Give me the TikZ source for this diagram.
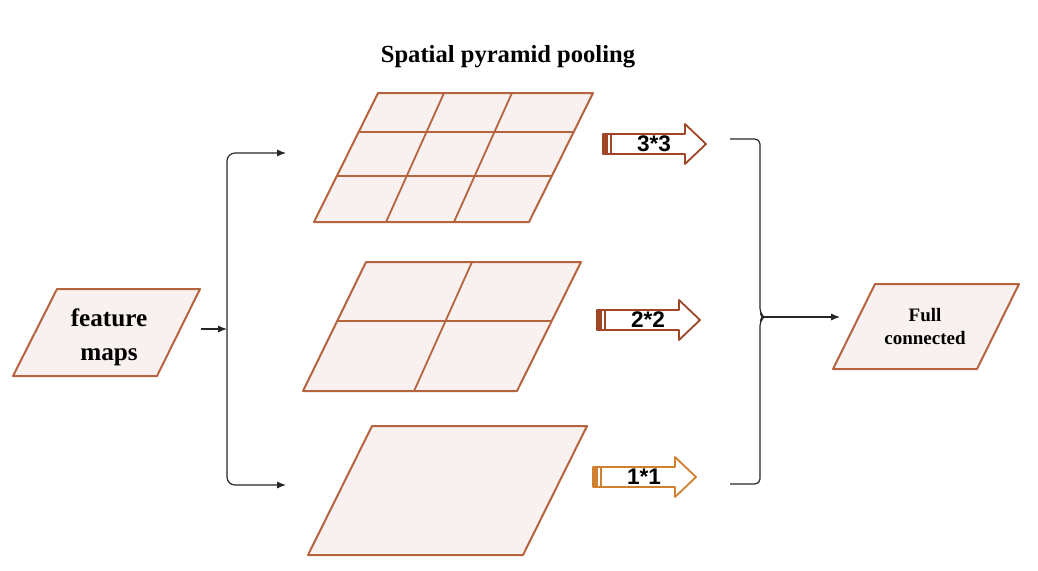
\documentclass[tikz,border=0pt]{standalone}
\usepackage{fontspec}
\setmainfont{Liberation Serif}
\newfontfamily\arrowfont{Liberation Sans}
\usetikzlibrary{arrows.meta,calc}
\definecolor{frame}{RGB}{182,100,64}
\definecolor{paper}{RGB}{248,241,239}
\definecolor{rust}{RGB}{160,70,38}
\definecolor{amber}{RGB}{208,128,46}
\begin{document}
\begin{tikzpicture}[x=0.5pt,y=-0.5pt,>={Latex[length=4.5pt,width=3.6pt]},line join=round,font=\bfseries,
    map/.style={draw=frame,fill=paper,line width=1pt},
    cell/.style={draw=frame,line width=0.9pt},
    wire/.style={line width=0.6pt,black!85}]
    \useasboundingbox (0,0) rectangle (1038,570);
    \node (title) at (508,57) {\fontsize{12.3}{14}\selectfont Spatial pyramid pooling};
    \draw[map] (57,289)--(200,289)--(157,376)--(13,376)--cycle;
    \node[align=center,font=\bfseries\fontsize{12.6}{17}\selectfont] (feat) at (109,337) {feature\\maps};
    \draw[map] (875,284)--(1019,284)--(977,369)--(833,369)--cycle;
    \node[align=center,font=\bfseries\fontsize{9.5}{11.5}\selectfont] (full) at (925,326) {Full\\connected};
    \draw[map] (378,93)coordinate(A1)--(593,93)coordinate(B1)--(529,222)coordinate(C1)--(314,222)coordinate(D1)--cycle;
    \draw[cell] ($(A1)!.302!(D1)$)--($(B1)!.302!(C1)$) ($(A1)!.643!(D1)$)--($(B1)!.643!(C1)$)
        ($(A1)!.307!(B1)$)--($(D1)!.335!(C1)$) ($(A1)!.623!(B1)$)--($(D1)!.651!(C1)$);
    \draw[map] (366,262)coordinate(A2)--(581,262)coordinate(B2)--(517,391)coordinate(C2)--(303,391)coordinate(D2)--cycle;
    \draw[cell] ($(A2)!.457!(D2)$)--($(B2)!.457!(C2)$) ($(A2)!.493!(B2)$)--($(D2)!.519!(C2)$);
    \draw[map] (372,426)--(587,426)--(523,555)--(308,555)--cycle;
    \foreach \n/\x/\y/\lab/\col in {1/603/144/3*3/rust,2/597/320/2*2/rust,3/593/477/1*1/amber}{
        \draw[\col,fill=white,line width=0.9pt] (\x,\y-10)--++(82,0)--++(0,-10)--++(21,20)--++(-21,20)--++(0,-10)--++(-82,0)--cycle;
        \fill[\col] (\x,\y-10) rectangle ++(5,20);
        \draw[\col,line width=0.9pt] (\x+8,\y-10)--++(0,20);
        \node[font=\arrowfont\bfseries\fontsize{11.3}{12}\selectfont] (pool\n) at (\x+51,\y) {\lab};
    }
    \coordinate (fmout) at (201,329);
    \coordinate (split) at (227,329);
    \coordinate (in1) at (286,153);
    \coordinate (in3) at (286,485);
    \draw[wire,->] (fmout)--(split);
    \draw[wire,<->,rounded corners=4pt] (in1) -| (split) |- (in3);
    \coordinate (out1) at (730,139);
    \coordinate (out3) at (730,484);
    \coordinate (join) at (764,317);
    \coordinate (fcin) at (840,317);
    \draw[wire,rounded corners=2.5pt] (out1) -| (760,313)--(join)--(760,321) |- (out3);
    \draw[wire,->] (join)--(fcin);
\end{tikzpicture}
\end{document}
